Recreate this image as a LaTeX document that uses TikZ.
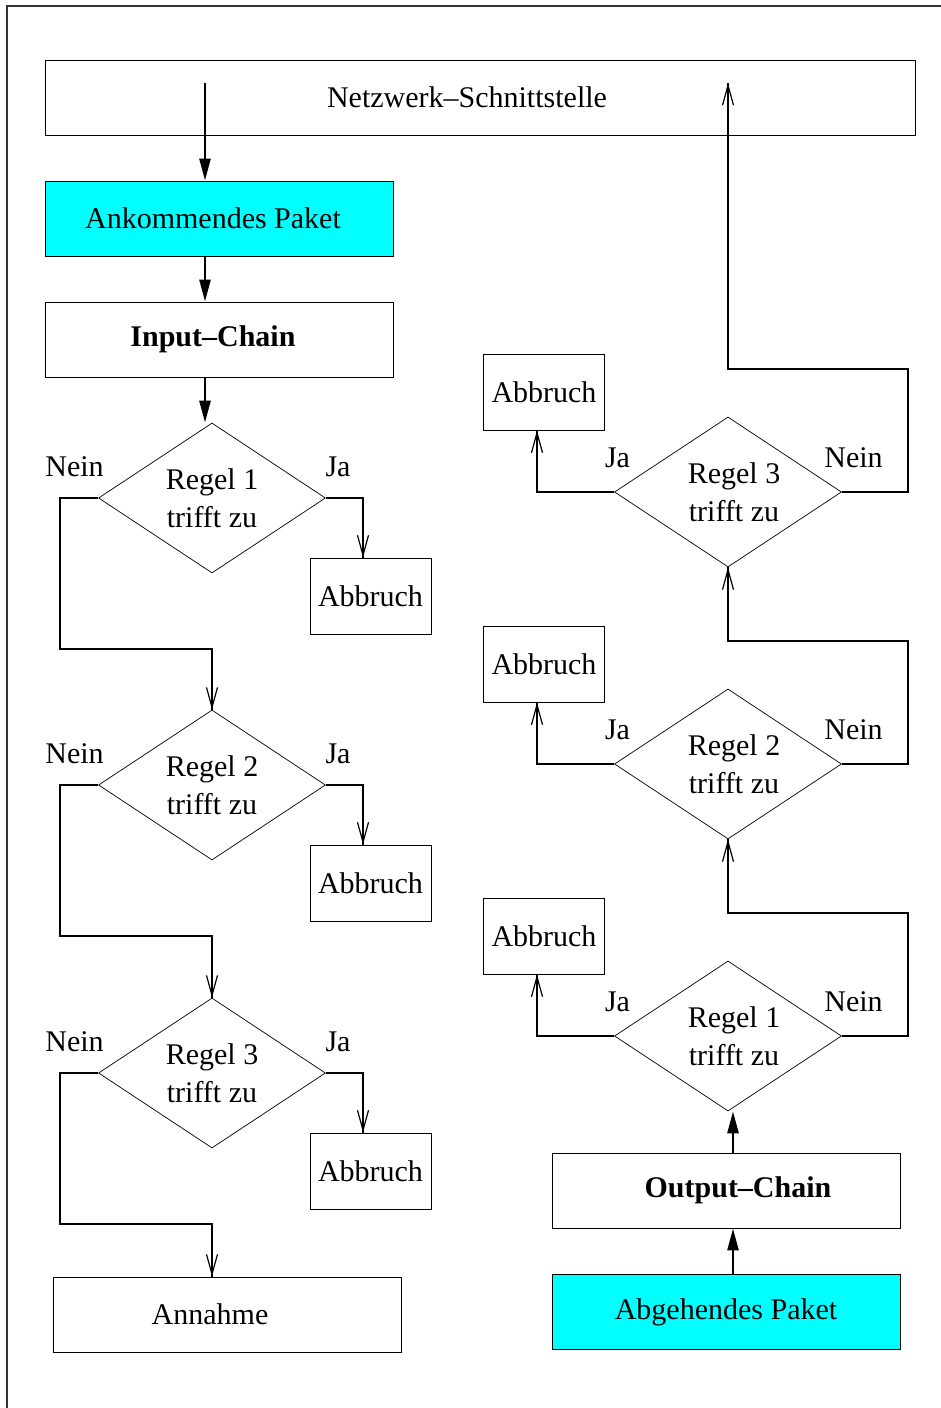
\documentclass[tikz,border=0pt]{standalone}
\usepackage{fontspec}
\setmainfont{Liberation Serif}
\usetikzlibrary{calc,arrows.meta,shapes.geometric}
\definecolor{paketblau}{RGB}{0,255,255}
\tikzset{box/.style={draw,rectangle,line width=0.9pt,minimum width=348,minimum height=75,inner sep=0pt},
paket/.style={box,fill=paketblau},
abbruch/.style={box,minimum width=121,minimum height=76},
regel/.style={draw,diamond,aspect=1.5,minimum width=227,minimum height=150,inner sep=0pt,align=center,line width=0.7pt},
flow/.style={-{Triangle[length=22pt,width=11pt]},line width=2.6pt},
zweig/.style={line width=2.6pt},
spitze/.style={line width=1.2pt,-{Straight Barb[length=20pt,width=11pt]}}}

\begin{document}
\begin{tikzpicture}[x=1pt,y=-1pt,font=\fontsize{30}{38}\selectfont]
\useasboundingbox (0,0) rectangle (941,1408);
\draw[line width=1.2pt,black!80] (7,1408)--(7,6)--(941,6);
% Netzwerk und Pakete
\node[box,minimum width=870] (netz) at (480,97.5) {\hspace*{-26pt}Netzwerk--Schnittstelle};
\coordinate (netout) at (205,83);
\coordinate (netin) at (726,83);
\node[paket] (ank) at (219,218.5) {\hspace*{-12pt}Ankommendes Paket};
\node[box] (inp) at (219,339.5) {\hspace*{-12pt}\bfseries Input--Chain};
\node[box] (annahme) at (227,1314.5) {\hspace*{-34pt}Annahme};
\node[paket] (abg) at (726,1312) {Abgehendes Paket};
\node[box] (out) at (726,1190.5) {\hspace*{24pt}\bfseries Output--Chain};
% Regeln der Input-Chain
\foreach \i/\y in {1/498,2/785,3/1073}{
\node[regel] (l\i) at (212,\y) {Regel \i\\trifft zu};
\node[abbruch] (la\i) at (370.5,\y+98) {Abbruch};
\node (ln\i) at (74.5,\y-31) {Nein};
\node (lj\i) at (338,\y-31) {Ja};
}
% Regeln der Output-Chain
\foreach \i/\y in {1/1036,2/764,3/492}{
\node[regel] (r\i) at (728,\y) {\hspace*{12pt}Regel \i\\\hspace*{12pt}trifft zu};
\node[abbruch] (ra\i) at (544,\y-100) {Abbruch};
\node (rj\i) at (617.5,\y-34) {Ja};
\node (rn\i) at (853.5,\y-34) {Nein};
}
\draw[flow] (netout) -- (netout |- ank.north);
\draw[flow] (ank.south -| netout) -- (inp.north -| netout);
\draw[flow] (inp.south -| netout) -- (l1.north -| netout);
\draw[flow] ([xshift=7pt]abg.north) -- ([xshift=7pt]out.south);
\draw[flow] ([xshift=7pt]out.north) -- ([xshift=5pt]r1.south);
% Ja/Nein-Zweige, dicke Linie mit duenner Spitze
\foreach \i/\n in {1/l2,2/l3,3/annahme}{
\coordinate (lja\i) at ($(la\i.north)+(-7.5,0)$);
\coordinate (lne\i) at (\n.north -| l\i);
\draw[zweig] (l\i.east) -| (lja\i);
\draw[zweig] (l\i.west) -| ($(l\i.west)+(-38,151)$) -| (lne\i);
\draw[spitze] ([yshift=2pt]lja\i) -- (lja\i);
\draw[spitze] ([yshift=2pt]lne\i) -- (lne\i);
}
\foreach \i/\n in {1/r2.south,2/r3.south,3/netin}{
\coordinate (rja\i) at ($(ra\i.south)+(-7,0)$);
\coordinate (rne\i) at (\n -| r\i);
\draw[zweig] (r\i.west) -| (rja\i);
\draw[zweig] (r\i.east) -| ($(r\i.east)+(66,-123)$) -| (rne\i);
\draw[spitze] ([yshift=-2pt]rja\i) -- (rja\i);
\draw[spitze] ([yshift=-2pt]rne\i) -- (rne\i);
}
\end{tikzpicture}
\end{document}
